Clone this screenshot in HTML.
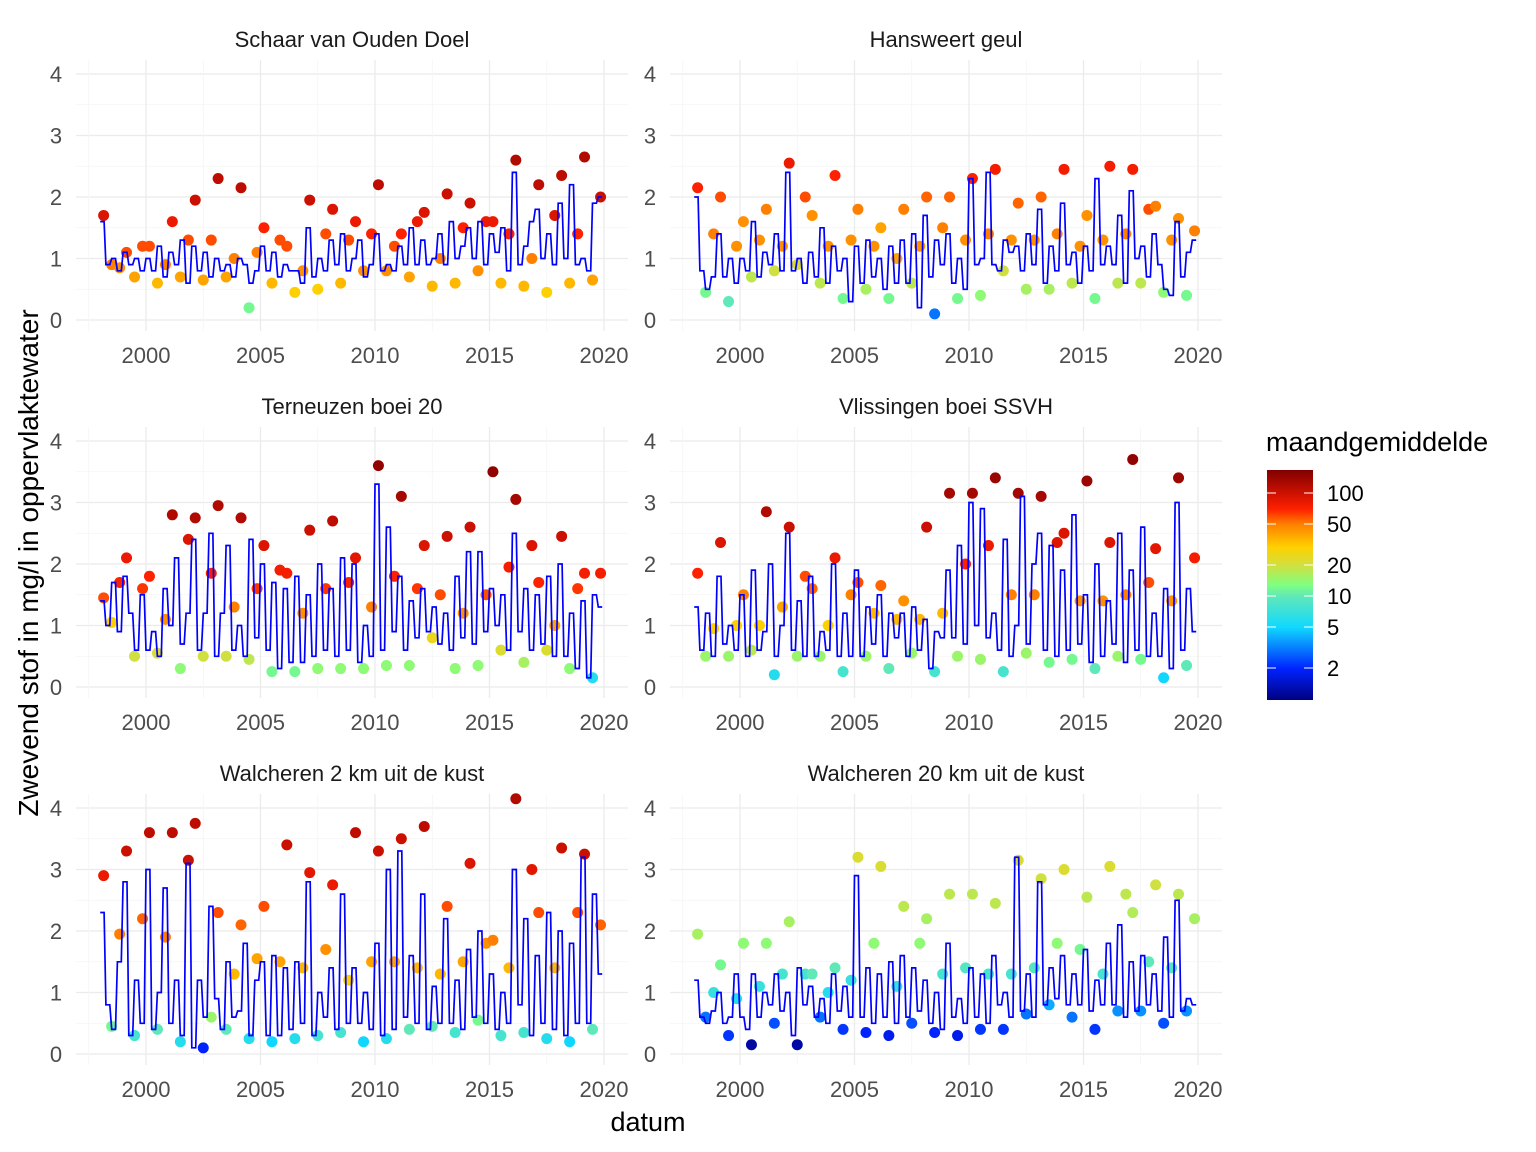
<!DOCTYPE html>
<html><head><meta charset="utf-8">
<style>
body{margin:0;background:#fff;}
svg{display:block;font-family:"Liberation Sans",Arial,sans-serif;}
</style></head>
<body>
<svg id="chart" width="1536" height="1152" viewBox="0 0 1536 1152">
<defs>
<linearGradient id="cbar" x1="0" y1="1" x2="0" y2="0">
<stop offset="0" stop-color="#000080"/>
<stop offset="0.135" stop-color="#0022ff"/>
<stop offset="0.315" stop-color="#10d8ff"/>
<stop offset="0.45" stop-color="#60e8b8"/>
<stop offset="0.501" stop-color="#80ff80"/>
<stop offset="0.585" stop-color="#d0e040"/>
<stop offset="0.665" stop-color="#ffd000"/>
<stop offset="0.764" stop-color="#ff8000"/>
<stop offset="0.83" stop-color="#ff2000"/>
<stop offset="0.9" stop-color="#cc1000"/>
<stop offset="1" stop-color="#800000"/>
</linearGradient>
</defs>
<g id="panels"></g>
<text x="648" y="1131" font-size="27" text-anchor="middle" fill="#000">datum</text>
<text transform="translate(38,563) rotate(-90)" font-size="28" text-anchor="middle" fill="#000">Zwevend stof in mg/l in oppervlaktewater</text>
<g>
<text x="1266" y="451" font-size="27" fill="#000">maandgemiddelde</text>
<rect x="1267" y="470" width="46" height="230" fill="url(#cbar)"/>
<g id="cticks"></g>
</g>
</svg>
<script>
const titles=["Schaar van Ouden Doel","Hansweert geul","Terneuzen boei 20","Vlissingen boei SSVH","Walcheren 2 km uit de kust","Walcheren 20 km uit de kust"];
const xTicks=[2000,2005,2010,2015,2020];
const yTicks=[0,1,2,3,4];
const legendTicks=[2,5,10,20,50,100];

const lineTL=[1.6,0.9,1.0,0.8,1.1,0.9,1.0,0.8,1.0,0.8,1.2,0.7,1.1,0.9,1.3,0.6,1.2,0.8,1.1,0.7,1.0,0.8,0.9,0.7,1.0,0.9,0.6,0.8,1.2,0.8,1.1,0.7,0.9,0.8,0.8,0.6,1.5,0.7,1.0,0.8,1.3,0.9,1.4,0.8,1.0,1.3,0.7,0.9,1.4,0.8,0.9,0.8,1.2,0.9,1.5,0.9,1.3,0.9,1.0,1.4,0.9,1.6,1.0,1.2,1.5,1.0,1.6,0.9,1.4,1.1,1.5,0.8,2.4,0.9,1.2,1.6,1.8,1.0,1.4,0.9,1.9,1.0,2.2,0.9,1.0,0.8,1.9,2.0];
const lineTR=[2.0,0.8,0.5,0.7,1.4,0.7,1.0,0.6,1.0,0.8,1.6,0.7,1.1,0.9,1.4,0.8,2.4,0.8,1.0,0.6,1.1,0.7,1.5,0.6,1.2,0.8,1.0,0.3,1.2,0.6,1.3,0.7,1.0,0.5,1.2,0.6,1.3,0.6,1.4,0.2,1.7,0.7,1.3,0.9,1.4,0.6,1.0,0.5,2.3,0.9,1.0,2.4,0.9,0.8,1.3,1.1,1.2,0.8,1.4,0.9,1.8,0.6,1.2,0.8,1.9,0.9,1.1,0.6,1.2,0.8,2.3,0.9,1.2,0.9,1.7,0.6,2.1,1.0,1.2,0.7,1.4,0.9,0.5,0.4,1.6,0.7,1.1,1.3];
const lineML=[1.4,1.0,1.7,0.9,1.8,1.2,0.6,1.5,0.6,0.9,0.5,1.6,1.0,2.1,0.7,1.2,2.4,0.6,1.2,2.5,0.5,1.2,2.3,0.6,1.0,0.5,2.4,0.8,2.0,0.6,1.7,0.3,1.6,0.4,1.8,0.4,1.5,0.5,2.0,0.6,1.6,0.5,2.1,0.6,2.0,0.4,1.0,0.5,3.3,0.6,2.6,0.9,1.8,0.6,1.4,0.8,1.6,0.9,1.3,0.7,1.2,0.6,1.8,0.8,2.2,0.7,2.2,0.9,1.6,1.0,1.5,0.6,2.5,0.9,1.6,0.6,1.5,0.7,1.8,0.5,2.0,0.5,1.2,0.3,1.4,0.15,1.5,1.3];
const lineMR=[1.3,0.6,1.2,0.5,1.8,0.7,1.0,0.6,1.5,0.5,1.9,0.6,0.9,2.0,0.5,1.0,2.5,0.6,1.4,0.5,1.8,0.5,0.9,0.6,2.0,0.5,1.2,0.5,1.9,0.5,1.3,0.7,1.5,0.5,1.2,0.8,1.2,0.5,1.3,0.6,1.1,0.3,0.9,0.8,1.9,0.8,2.3,0.7,3.0,1.0,2.9,0.8,1.2,0.6,2.4,0.5,1.0,3.1,0.7,2.0,2.5,0.6,2.3,0.5,1.9,0.6,2.8,0.7,1.5,0.4,2.0,0.5,1.4,0.7,2.5,0.4,1.9,0.6,2.6,0.5,1.2,0.5,1.6,0.3,3.0,0.6,1.6,0.9];
const lineBL=[2.3,0.8,0.4,1.5,2.8,0.3,1.2,0.5,3.0,0.4,1.0,2.7,0.5,1.2,0.3,3.1,0.1,1.2,0.6,2.4,0.9,0.4,1.5,0.6,0.7,1.8,0.3,1.2,1.5,0.3,1.6,0.3,1.4,0.4,1.5,0.5,2.8,0.3,1.0,0.6,1.4,0.4,2.6,0.5,1.4,0.5,1.0,0.4,1.8,0.3,3.0,0.4,3.3,0.6,1.6,0.5,2.6,0.4,1.1,0.5,2.2,0.5,1.2,0.4,1.7,0.6,2.0,0.5,1.3,0.4,1.0,0.5,3.0,0.8,2.2,0.3,1.6,0.5,2.3,0.4,2.0,0.3,1.8,0.5,3.2,0.5,2.6,1.3];
const lineBR=[1.2,0.6,0.5,0.7,1.0,0.5,0.6,1.3,0.6,0.4,1.3,0.6,1.0,0.8,1.3,0.7,1.0,0.3,1.4,0.8,1.1,0.6,0.9,0.5,1.3,0.7,1.1,0.6,2.9,0.6,1.4,0.5,1.3,0.6,1.5,0.5,1.6,0.6,1.4,0.7,1.2,0.5,1.0,0.4,1.8,0.6,0.9,0.5,1.4,0.6,1.3,0.5,1.6,0.8,1.0,0.6,3.2,0.7,1.3,0.6,2.8,0.8,1.4,0.9,1.6,0.8,1.3,0.8,1.7,0.7,1.2,0.8,1.8,0.8,2.1,0.6,1.5,0.7,1.6,0.8,1.3,0.7,1.9,0.6,2.5,0.7,0.9,0.8];

const ptTL=[1.7,0.9,0.85,1.1,0.7,1.2,1.2,0.6,0.9,1.6,0.7,1.3,1.95,0.65,1.3,2.3,0.7,1.0,2.15,0.2,1.1,1.5,0.6,1.3,1.2,0.45,0.8,1.95,0.5,1.4,1.8,0.6,1.3,1.6,0.8,1.4,2.2,0.8,1.2,1.4,0.7,1.6,1.75,0.55,1.0,2.05,0.6,1.5,1.9,0.8,1.6,1.6,0.6,1.4,2.6,0.55,1.0,2.2,0.45,1.7,2.35,0.6,1.4,2.65,0.65,2.0];
const colTL=[90,50,45,60,40,60,60,35,50,80,40,60,100,40,60,110,40,50,110,12,50,70,35,60,60,30,45,100,30,60,90,35,60,80,45,70,110,45,60,70,40,80,90,35,50,100,35,70,100,45,80,80,35,70,120,35,50,110,30,90,110,35,70,120,40,100];
const ptTR=[2.15,0.45,1.4,2.0,0.3,1.2,1.6,0.7,1.3,1.8,0.8,1.2,2.55,0.9,2.0,1.7,0.6,1.2,2.35,0.35,1.3,1.8,0.5,1.2,1.5,0.35,1.0,1.8,0.6,1.2,2.0,0.1,1.5,2.0,0.35,1.3,2.3,0.4,1.4,2.45,0.8,1.3,1.9,0.5,1.3,2.0,0.5,1.4,2.45,0.6,1.2,1.7,0.35,1.3,2.5,0.6,1.4,2.45,0.6,1.8,1.85,0.45,1.3,1.65,0.4,1.45];
const colTR=[70,12,50,60,10,45,45,18,45,50,20,45,80,22,60,45,18,45,70,12,45,50,16,45,40,12,40,50,18,45,55,3,50,55,12,45,70,14,50,75,20,45,55,16,45,55,16,50,75,18,45,45,12,45,75,18,50,75,18,60,50,14,45,45,12,50];
const ptML=[1.45,1.05,1.7,2.1,0.5,1.6,1.8,0.55,1.1,2.8,0.3,2.4,2.75,0.5,1.85,2.95,0.5,1.3,2.75,0.45,1.6,2.3,0.25,1.9,1.85,0.25,1.2,2.55,0.3,1.6,2.7,0.3,1.7,2.1,0.3,1.3,3.6,0.35,1.8,3.1,0.35,1.6,2.3,0.8,1.5,2.45,0.3,1.2,2.6,0.35,1.5,3.5,0.6,1.95,3.05,0.4,2.3,1.7,0.6,1.0,2.45,0.3,1.6,1.85,0.15,1.85];
const colML=[60,30,70,80,20,65,70,22,45,120,14,90,120,20,75,120,20,50,120,18,65,90,12,75,75,12,45,100,14,65,110,14,70,85,14,50,150,14,70,130,14,65,90,25,60,100,14,45,100,14,60,150,22,75,130,16,90,70,22,40,100,14,65,75,6,75];
const ptMR=[1.85,0.5,0.95,2.35,0.5,1.0,1.5,0.6,1.0,2.85,0.2,1.3,2.6,0.5,1.8,1.6,0.5,1.0,2.1,0.25,1.5,1.7,0.5,1.2,1.65,0.3,1.1,1.4,0.55,1.1,2.6,0.25,1.2,3.15,0.5,2.0,3.15,0.45,2.3,3.4,0.25,1.5,3.15,0.55,1.5,3.1,0.4,2.35,2.5,0.45,1.4,3.35,0.3,1.4,2.35,0.5,1.5,3.7,0.45,1.7,2.25,0.15,1.4,3.4,0.35,2.1];
const colMR=[70,15,30,90,15,30,50,18,30,120,6,40,100,15,60,55,15,30,80,8,50,60,15,35,55,10,35,45,15,35,100,8,35,130,15,70,130,15,80,140,8,50,130,15,50,130,12,90,90,12,45,140,10,45,90,15,50,150,12,60,85,5,45,140,10,75];
const ptBL=[2.9,0.45,1.95,3.3,0.3,2.2,3.6,0.4,1.9,3.6,0.2,3.15,3.75,0.1,0.6,2.3,0.4,1.3,2.1,0.25,1.55,2.4,0.2,1.5,3.4,0.25,1.4,2.95,0.3,1.7,2.75,0.35,1.2,3.6,0.2,1.5,3.3,0.25,1.5,3.5,0.4,1.4,3.7,0.45,1.3,2.4,0.35,1.5,3.1,0.55,1.8,1.85,0.3,1.4,4.15,0.35,3.0,2.3,0.25,1.4,3.35,0.2,2.3,3.25,0.4,2.1];
const colBL=[80,12,50,100,8,55,110,10,50,110,6,100,110,2,15,60,10,35,55,6,40,60,5,40,100,6,35,85,8,45,80,8,30,110,5,40,100,6,40,100,10,35,110,10,35,60,8,40,90,12,45,50,8,35,120,8,85,60,6,35,100,5,60,100,10,55];
const ptBR=[1.95,0.6,1.0,1.45,0.3,0.9,1.8,0.15,1.1,1.8,0.5,1.3,2.15,0.15,1.3,1.3,0.6,1.0,1.4,0.4,1.2,3.2,0.35,1.8,3.05,0.3,1.1,2.4,0.5,1.8,2.2,0.35,1.3,2.6,0.3,1.4,2.6,0.4,1.3,2.45,0.4,1.3,3.15,0.65,1.4,2.85,0.8,1.8,3.0,0.6,1.7,2.55,0.4,1.3,3.05,0.7,2.6,2.3,0.7,1.5,2.75,0.5,1.4,2.6,0.7,2.2];
const colBR=[16,3,7,12,2.2,6,14,1.2,7,14,2.5,8,16,1.2,8,10,3,6,10,2.2,7,22,2,14,22,1.8,7,18,2.5,14,16,2,8,18,1.8,9,18,2.2,8,18,2.2,8,22,3,9,20,4,14,22,3,12,18,2.2,8,22,3.5,18,17,3.5,10,20,2.5,9,18,3.5,16];

const lineData=[lineTL,lineTR,lineML,lineMR,lineBL,lineBR];
const ptData=[ptTL,ptTR,ptML,ptMR,ptBL,ptBR];
const colData=[colTL,colTR,colML,colMR,colBL,colBR];

const NS="http://www.w3.org/2000/svg";
function mk(tag,attrs,parent){const e=document.createElementNS(NS,tag);for(const k in attrs)e.setAttribute(k,attrs[k]);parent.appendChild(e);return e;}
const stops=[[0,[0,0,128]],[0.135,[0,34,255]],[0.315,[16,216,255]],[0.45,[96,232,184]],[0.501,[128,255,128]],[0.585,[208,224,64]],[0.665,[255,208,0]],[0.764,[255,128,0]],[0.83,[255,32,0]],[0.9,[204,16,0]],[1,[128,0,0]]];
function colorOf(c){let t=Math.log(Math.max(c,1))/Math.log(167);t=Math.min(1,Math.max(0,t));
for(let i=1;i<stops.length;i++){if(t<=stops[i][0]){const a=stops[i-1],b=stops[i];const f=(t-a[0])/(b[0]-a[0]);const r=a[1].map((v,j)=>Math.round(v+(b[1][j]-v)*f));return `rgb(${r[0]},${r[1]},${r[2]})`;}}return "rgb(128,0,0)";}

const panelsG=document.getElementById('panels');
const colX=[{x0:76,x1:628,x2000:146},{x0:670,x1:1222,x2000:740}];
const rowY=[{top:60,bot:331,y0:320},{top:427,bot:698,y0:687},{top:794,bot:1065,y0:1054}];
const PXY=22.9, PXV=61.5;
for(let p=0;p<6;p++){
  const C=colX[p%2],R=rowY[Math.floor(p/2)];
  const sx=yr=>C.x2000+(yr-2000)*PXY;
  const sy=v=>R.y0-v*PXV;
  const g=mk('g',{},panelsG);
  
  
  for(let v=0;v<=4.01;v+=0.5){const major=Math.abs(v-Math.round(v))<0.01;
    const l=mk('line',{x1:C.x0,x2:C.x1,y1:sy(v),y2:sy(v),stroke:major?'#ebebeb':'#f4f4f4','stroke-width':major?1.3:0.8},g);
    
    }
  for(let yr=1997.5;yr<=2020.01;yr+=2.5){const major=Math.abs(yr%5)<0.01;
    const l=mk('line',{x1:sx(yr),x2:sx(yr),y1:R.top,y2:R.bot,stroke:major?'#ebebeb':'#f4f4f4','stroke-width':major?1.3:0.8},g);
    
    }
  const t=mk('text',{x:(C.x0+C.x1)/2,y:R.top-13,'font-size':22,'text-anchor':'middle',fill:'#1a1a1a'},g);
  t.textContent=titles[p];
  
  
  yTicks.forEach(v=>{const e=mk('text',{x:C.x0-20,y:sy(v)+8,'font-size':22,'text-anchor':'middle',fill:'#4d4d4d'},g);e.textContent=v;
    
    });
  xTicks.forEach(v=>{const e=mk('text',{x:sx(v),y:R.bot+32,'font-size':22,'text-anchor':'middle',fill:'#4d4d4d'},g);e.textContent=v;
    
    });
  const pts=ptData[p],cols=colData[p];
  for(let i=0;i<pts.length;i++){const yr=1998+Math.floor(i/3)+[0.15,0.5,0.85][i%3];
    const c=mk('circle',{cx:sx(yr),cy:sy(pts[i]),r:5.5,fill:colorOf(cols[i])},g);
    
    }
  const ld=lineData[p];let d='';
  for(let i=0;i<ld.length;i++){const x=sx(1998+i*0.25),y=sy(ld[i]);
    d+=(i?'L':'M')+x.toFixed(1)+','+y.toFixed(1)+'L'+sx(1998+(i+1)*0.25-0.08).toFixed(1)+','+y.toFixed(1);}
  const pl=mk('path',{d:d,fill:'none',stroke:'#0000ff','stroke-width':1.7},g);
  
  
}
const ct=document.getElementById('cticks');
legendTicks.forEach(v=>{const y=493+(2-Math.log10(v))*103;
  mk('line',{x1:1267,x2:1276,y1:y,y2:y,stroke:'#fff','stroke-width':1},ct);
  mk('line',{x1:1304,x2:1313,y1:y,y2:y,stroke:'#fff','stroke-width':1},ct);
  const e=mk('text',{x:1327,y:y+8,'font-size':22,fill:'#000'},ct);e.textContent=v;
  
  });
</script>
</body></html>
